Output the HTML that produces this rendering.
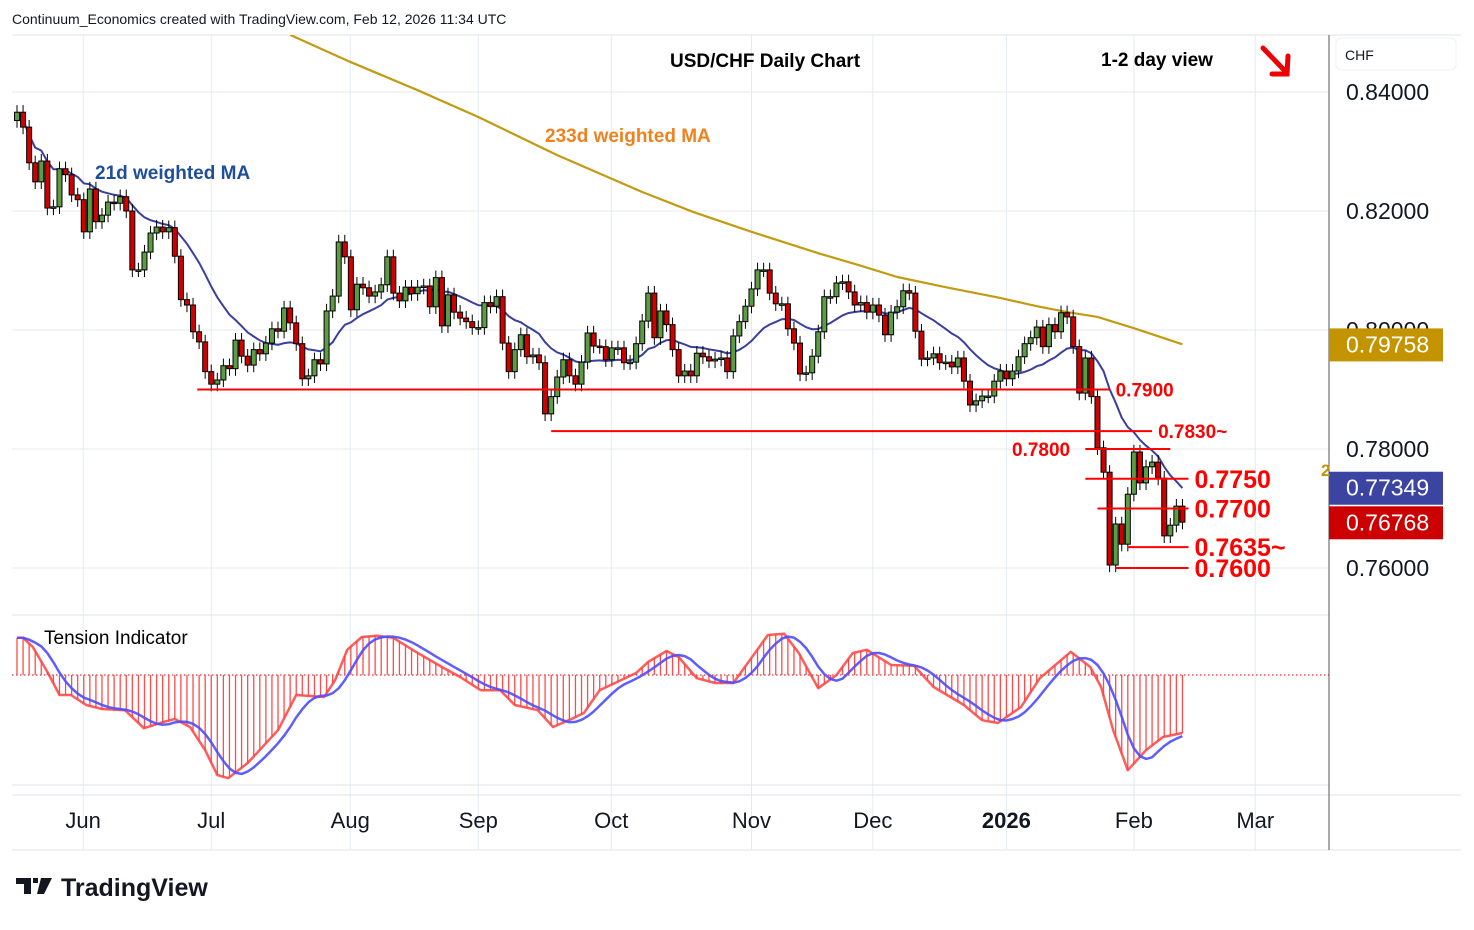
<!DOCTYPE html>
<html><head><meta charset="utf-8"><style>
body{margin:0;background:#fff;font-family:"Liberation Sans",sans-serif}
svg text{font-family:"Liberation Sans",sans-serif}
</style></head><body>
<svg id="c" width="1474" height="925" viewBox="0 0 1474 925">
<rect width="1474" height="925" fill="#fff"/>
<text x="12" y="24" font-size="14" fill="#131722">Continuum_Economics created with TradingView.com, Feb 12, 2026 11:34 UTC</text>
<g id="grid"></g>
<g id="plot"></g>
<rect x="1336" y="38" width="120" height="32" rx="5" fill="#fff" stroke="#eef0f3"/>
<text x="1345" y="60" font-size="14" fill="#131722">CHF</text>
<text x="670" y="67" font-size="19" font-weight="bold" fill="#000">USD/CHF Daily Chart</text>
<text x="1101" y="66" font-size="19" font-weight="bold" fill="#000">1-2 day view</text>
<g stroke="#e00" stroke-width="5" fill="none" stroke-linecap="round">
<line x1="1263" y1="48" x2="1286" y2="72"/><polyline points="1272,74 1287,74 1288,56"/></g>
<text x="95" y="179" font-size="19" font-weight="bold" fill="#1f4e9c">21d weighted MA</text>
<text x="545" y="142" font-size="19" font-weight="bold" fill="#f0821e">233d weighted MA</text>
<text x="44" y="644" font-size="19" fill="#000">Tension Indicator</text>
<g>
<path d="M16 878h15v16h-7v-10h-8z M33 878h5v5h-5z M41 878h11l-8 16h-7z" fill="#131722"/>
<text x="61" y="896" font-size="25" font-weight="bold" fill="#131722">TradingView</text></g>
</svg>
<script>
const closes=[0.8366,0.8341,0.8281,0.8249,0.8284,0.8205,0.8207,0.8271,0.8261,0.8227,0.8219,0.8165,0.8237,0.8182,0.8193,0.8215,0.8213,0.8224,0.8200,0.8101,0.8101,0.8131,0.8163,0.8173,0.8165,0.8172,0.8124,0.8051,0.8042,0.7997,0.7980,0.7930,0.7909,0.7916,0.7940,0.7935,0.7983,0.7956,0.7941,0.7967,0.7960,0.7978,0.8002,0.7998,0.8037,0.8012,0.7977,0.7918,0.7923,0.7950,0.7943,0.8032,0.8057,0.8148,0.8123,0.8034,0.8077,0.8071,0.8057,0.8064,0.8076,0.8123,0.8062,0.8049,0.8072,
0.8061,0.8072,0.8074,0.8039,0.8088,0.8007,0.8059,0.8030,0.8020,0.8014,0.8004,0.8004,0.8046,0.8040,0.8056,0.7978,0.7930,0.7967,0.7992,0.7955,0.7958,0.7945,0.7859,0.7888,0.7921,0.7950,0.7923,0.7909,0.7946,0.7995,0.7973,0.7972,0.7950,0.7970,0.7970,0.7945,0.7946,0.7977,0.8015,0.8062,0.7987,0.8032,0.8009,0.7967,0.7923,0.7931,0.7923,0.7961,0.7955,0.7948,0.7951,0.7953,0.7930,0.7990,0.8014,0.8040,0.8069,0.8101,0.8101,0.8062,0.8044,0.8044,0.8002,0.7978,0.7926,0.7928,0.7956,0.7997,
0.8056,0.8056,0.8079,0.8081,0.8064,0.8042,0.8046,0.8030,0.8042,0.8025,0.7992,0.8030,0.8039,0.8066,0.8062,0.7998,0.7951,0.7953,0.7960,0.7945,0.7946,0.7938,0.7953,0.7914,0.7874,0.7881,0.7889,0.7889,0.7914,0.7931,0.7918,0.7931,0.7955,0.7977,0.7987,0.8005,0.7972,0.8009,0.7997,0.8029,0.8022,0.7972,0.7894,0.7953,0.7888,0.7802,0.7761,0.7605,0.7674,0.7640,0.7724,0.7795,0.7743,0.7770,0.7778,0.7751,0.7654,0.7672,0.7704,0.7677];
const firstOpen=0.8352;
const ma233Idx=[45,55,66,76,89,103,111.5,121,132,139,145,153,162,168,173,178,184,192];
const ma233Val=[0.8496,0.8450,0.8403,0.8358,0.8294,0.8232,0.8198,0.8165,0.8129,0.8108,0.8089,0.8072,0.8054,0.8040,0.8030,0.8022,0.8003,0.7976];
const tIdx=[0,1,2.6,5.1,7,8.9,11.4,14,17.8,20.9,24,26,28.5,31,33,34.8,38,43,46,50.6,52.4,54.4,56.8,59.3,62,65.7,70,73,76.4,79.6,82,85.8,88.3,90.9,93.4,96,102,104,107,109,112,115,118,121,123.7,126.4,128.8,132,135,137.7,140,144,147.8,151,156,159,161.6,165.4,168.5,173.6,176.8,178.6,180.6,183,186,188.8,192];
const tVal=[0.93,0.93,0.70,0.05,-0.50,-0.50,-0.75,-0.85,-0.88,-1.33,-1.18,-1.10,-1.30,-1.88,-2.50,-2.58,-2.20,-1.38,-0.50,-0.55,-0.13,0.63,0.95,0.98,0.93,0.58,0.20,-0.05,-0.38,-0.38,-0.75,-0.88,-1.30,-1.13,-0.95,-0.38,0.05,0.33,0.60,0.45,-0.08,-0.20,-0.20,0.43,1.00,1.03,0.55,-0.33,0.00,0.55,0.63,0.25,0.23,-0.30,-0.75,-1.13,-1.20,-0.80,-0.08,0.58,0.20,-0.30,-1.38,-2.38,-1.88,-1.55,-1.45];
const priceTicks=[0.84,0.82,0.80,0.78,0.76];
const priceTickLabels=["0.84000","0.82000","0.80000","0.78000","0.76000"];
const months=["Jun","Jul","Aug","Sep","Oct","Nov","Dec","2026","Feb","Mar"];
const monthIdx=[10.9,32,54.9,76,97.9,121,141,163,184,204];
const levels=[0.7900,0.7830,0.7800,0.7750,0.7700,0.7635,0.7600];
const levelLabels=["0.7900","0.7830~","0.7800","0.7750","0.7700","0.7635~","0.7600"];
const levelStart=[29.7,88,176,176,178,183,181];
const levelEnd=[180,187,190,193,193,193,193];
const badgeValues=[0.79758,0.77349,0.76768];
const badgeLabels=["0.79758","0.77349","0.76768"];

const NS="http://www.w3.org/2000/svg";
const X=i=>17+i*6.07;
const Y=p=>92+(0.84-p)*5950;
const YT=v=>675-v*40;
function mk(tag,attrs,parent){const e=document.createElementNS(NS,tag);for(const k in attrs)e.setAttribute(k,attrs[k]);parent.appendChild(e);return e;}
const svg=document.getElementById('c'),grid=document.getElementById('grid'),plot=document.getElementById('plot');

priceTicks.forEach((p,k)=>{const l=mk('line',{x1:12,x2:1329,y1:Y(p),y2:Y(p),stroke:'#e4eaf2'},grid);

});
monthIdx.forEach(m=>{const l=mk('line',{x1:X(m),x2:X(m),y1:35,y2:850,stroke:'#e4eaf2'},grid);

});
[[12,615,1329,615],[12,795,1461,795],[12,785,1329,785],[12,850,1461,850],[12,35,1461,35]].forEach(a=>{const l=mk('line',{x1:a[0],y1:a[1],x2:a[2],y2:a[3],stroke:'#e0e3eb'},grid);

});
const ax=mk('line',{x1:1329,x2:1329,y1:35,y2:850,stroke:'#555'},grid);



const clip=mk('clipPath',{id:'pc'},svg);mk('rect',{x:12,y:35,width:1317,height:580},clip);
const main=mk('g',{'clip-path':'url(#pc)'},plot);

let d='';ma233Idx.forEach((i,k)=>{d+=(k?'L':'M')+X(i).toFixed(1)+','+Y(ma233Val[k]).toFixed(1);});
const m2=mk('path',{d:d,fill:'none',stroke:'#c29b12',"stroke-width":2.2,"stroke-linejoin":'round'},main);



d='';closes.forEach((c,i)=>{let s=0,w=0;for(let j=0;j<21&&i-j>=0;j++){const ww=21-j;s+=closes[i-j]*ww;w+=ww;}const v=s/w;d+=(i?'L':'M')+X(i).toFixed(1)+','+Y(v).toFixed(1);});
const m1=mk('path',{d:d,fill:'none',stroke:'#3a3f9e',"stroke-width":2},main);



levels.forEach((p,k)=>{const l=mk('line',{x1:X(levelStart[k]),x2:X(levelEnd[k]),y1:Y(p),y2:Y(p),stroke:'#f00',"stroke-width":2},plot);


const big=k>=3;let tx=X(levelEnd[k])+6;if(k==2)tx=1012;
const t=mk('text',{x:tx,y:Y(p)+(big?9:7),"font-size":big?25:19,"font-weight":'bold',fill:'#f00'},plot);t.textContent=levelLabels[k];

});

closes.forEach((c,i)=>{const o=i?closes[i-1]:firstOpen;const hi=Math.max(o,c)+0.0012,lo=Math.min(o,c)-0.0012;const x=X(i);
const g=mk('g',{},main);


mk('line',{x1:x,x2:x,y1:Y(hi),y2:Y(lo),stroke:'#000',"stroke-width":1},g);
const top=Y(Math.max(o,c)),h=Math.max(1.5,Math.abs(Y(o)-Y(c)));
mk('rect',{x:x-2.5,y:top,width:5,height:h,fill:c>=o?'#5c9c45':'#d10000',stroke:'#000',"stroke-width":1},g);});

const n=closes.length;const tr=[];
for(let i=0;i<n;i++){let k=0;while(k<tIdx.length-2&&tIdx[k+1]<i)k++;const f=Math.min(1,Math.max(0,(i-tIdx[k])/(tIdx[k+1]-tIdx[k])));tr.push(tVal[k]+(tVal[k+1]-tVal[k])*f);}
const zl=mk('line',{x1:12,x2:1329,y1:675,y2:675,stroke:'#d00',"stroke-dasharray":'1.5,2.5'},plot);


tr.forEach((v,i)=>{const l=mk('line',{x1:X(i),x2:X(i),y1:675,y2:YT(v),stroke:'#ff4b4b',"stroke-width":1.3},plot);

});
d='';tIdx.forEach((i,k)=>{d+=(k?'L':'M')+X(i).toFixed(1)+','+YT(tVal[k]).toFixed(1);});
const tl=mk('path',{d:d,fill:'none',stroke:'#ff4040',"stroke-width":2.5,"stroke-opacity":0.85,"stroke-linejoin":'round'},plot);


d='';tr.forEach((v,i)=>{let s=0,c=0;for(let j=0;j<5&&i-j>=0;j++){s+=tr[i-j];c++;}d+=(i?'L':'M')+X(i).toFixed(1)+','+YT(s/c).toFixed(1);});
const bl=mk('path',{d:d,fill:'none',stroke:'#4d4dff',"stroke-width":2.5,"stroke-opacity":0.9},plot);



priceTicks.forEach((p,k)=>{const t=mk('text',{x:1346,y:Y(p)+8,"font-size":23,fill:'#131722'},svg);t.textContent=priceTickLabels[k];

});
months.forEach((m,k)=>{const t=mk('text',{x:X(monthIdx[k]),y:828,"font-size":22,"text-anchor":'middle',fill:'#131722',"font-weight":m==='2026'?'bold':'normal'},svg);t.textContent=m;

});
const badgeColors=['#c49400','#3c44a2','#cc0000'];
badgeValues.forEach((v,k)=>{let y=Y(v);if(k==1)y=Math.min(y,Y(badgeValues[2])-33);
const r=mk('rect',{x:1329,y:y-16,width:114,height:33,fill:badgeColors[k]},svg);


const t=mk('text',{x:1346,y:y+8,"font-size":23,fill:'#fff'},svg);t.textContent=badgeLabels[k];

});
const two=mk('text',{x:1321,y:476,"font-size":17,"font-weight":'bold',fill:'#c49400'},svg);two.textContent='2';


</script>
</body></html>
